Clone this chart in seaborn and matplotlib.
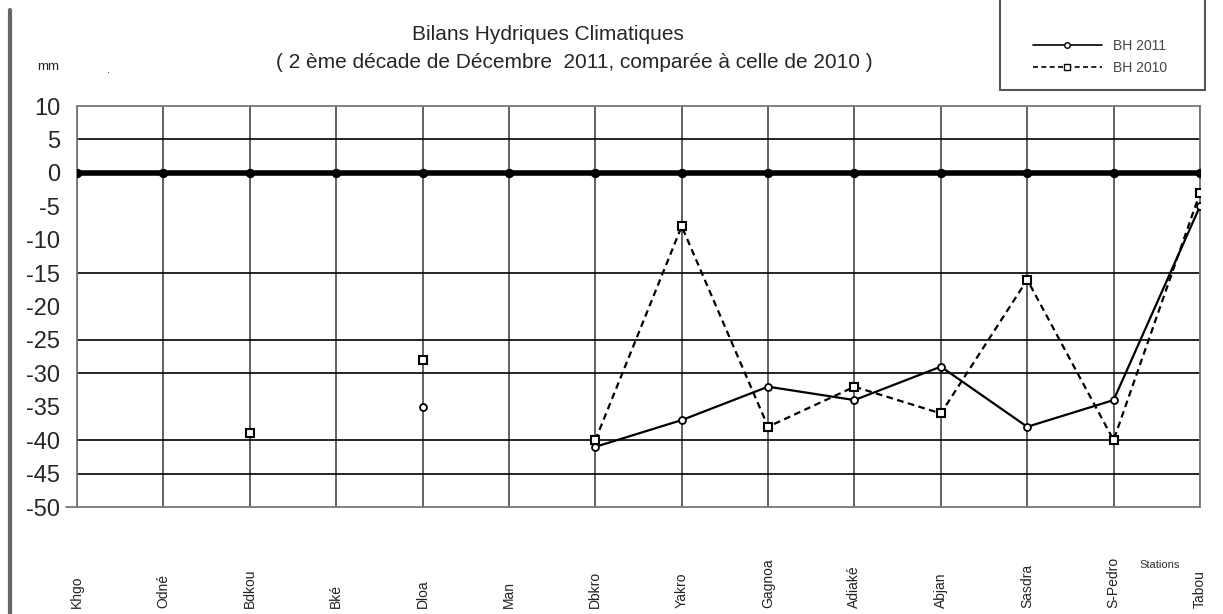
"""Bilans hydriques climatiques - 2e décade de décembre 2011 vs 2010."""
import matplotlib

matplotlib.use("Agg")
import matplotlib.pyplot as plt
import matplotlib.transforms as mtransforms
from matplotlib.lines import Line2D
import numpy as np
import pandas as pd
import seaborn as sns

# --- Data ------------------------------------------------------------------
STATIONS = ["Khgo", "Odné", "Bdkou", "Bké", "Dloa", "Man", "Dbkro",
            "Yakro", "Gagnoa", "Adiaké", "Abjan", "Sasdra", "S-Pedro", "Tabou"]
BH_2011 = [np.nan, np.nan, np.nan, np.nan, -35, np.nan, -41,
           -37, -32, -34, -29, -38, -34, -5]
BH_2010 = [np.nan, np.nan, -39, np.nan, -28, np.nan, -40,
           -8, -38, -32, -36, -16, -40, -3]
ZERO = [0] * len(STATIONS)
Y_TICKS = list(range(10, -55, -5))
GRID_Y = [5, -15, -25, -30, -40, -45]   # lines that survived the scan


def segments(values):
    """Long frame with a segment id so gaps (NaN) break the line."""
    rows, seg = [], 0
    for i, v in enumerate(values):
        if np.isnan(v):
            seg += 1
            continue
        rows.append({"x": i, "y": v, "seg": seg})
    return pd.DataFrame(rows)


sns.set_style("white")
plt.rcParams["font.family"] = ["Liberation Sans Narrow", "Liberation Sans", "DejaVu Sans"]

fig = plt.figure(figsize=(12.23, 6.14), dpi=100)
ax = fig.add_axes([77 / 1223, 1 - 507 / 614, (1200 - 77) / 1223, 401 / 614])

# grid
for i in range(len(STATIONS)):
    ax.axvline(i, color="#555555", lw=1.3, zorder=0)
for g in GRID_Y:
    ax.axhline(g, color="black", lw=1.2, zorder=0)

# zero reference series
sns.lineplot(x=range(len(STATIONS)), y=ZERO, ax=ax, color="black", lw=4,
             marker="o", markersize=6, markeredgecolor="black", zorder=3)

d11 = segments(BH_2011)
d10 = segments(BH_2010)
sns.lineplot(data=d11, x="x", y="y", units="seg", estimator=None, ax=ax,
             color="black", lw=1.6, marker="o", markersize=5,
             markerfacecolor="white", markeredgecolor="black",
             markeredgewidth=1.3, zorder=4)
sns.lineplot(data=d10, x="x", y="y", units="seg", estimator=None, ax=ax,
             color="black", lw=1.6, linestyle=(0, (3, 2)), marker="s",
             markersize=6, markerfacecolor="white", markeredgecolor="black",
             markeredgewidth=1.5, zorder=5)

ax.set_xlim(0, len(STATIONS) - 1)
ax.set_ylim(-50, 10)
ax.set_yticks(Y_TICKS)
ax.set_yticklabels([str(t) for t in Y_TICKS], fontsize=17)
ax.tick_params(axis="y", direction="inout", length=16, width=1, color="#777777", pad=4)
ax.set_xticks([])
ax.set_xlabel("")
ax.set_ylabel("")
for s in ax.spines.values():
    s.set_color("#777777")
    s.set_linewidth(1.3)
ax.spines["bottom"].set_visible(False)
ax.axhline(-50, color="#777777", lw=1.3, xmin=-0.01, clip_on=False)

# station labels, rotated, bottom-aligned
trans = mtransforms.blended_transform_factory(ax.transData, fig.transFigure)
for i, name in enumerate(STATIONS):
    ax.text(i, 1 - 608 / 614, name, transform=trans, rotation=90,
            ha="center", va="bottom", fontsize=10, color="#222222")

fig.text(1160 / 1223, 1 - 565 / 614, "Stations", ha="center", va="center",
         fontsize=8, color="#333333")
fig.text(48 / 1223, 1 - 67 / 614, "mm", ha="center", va="center",
         fontsize=9.5, color="#222222")
fig.text(108 / 1223, 1 - 70 / 614, ".", ha="center", va="center", fontsize=8)

fig.text(548 / 1223, 1 - 35 / 614, "Bilans Hydriques Climatiques",
         ha="center", va="center", fontsize=15)
fig.text(574 / 1223, 1 - 62 / 614,
         "( 2 ème décade de Décembre  2011, comparée à celle de 2010 )",
         ha="center", va="center", fontsize=15)

# page border on the left
fig.add_artist(Line2D([10 / 1223, 10 / 1223], [0, 1 - 10 / 614],
                      transform=fig.transFigure, color="#666666", lw=3))

# legend and its (partly cut) box
handles = [
    Line2D([], [], color="black", lw=1.2, marker="o", markersize=4,
           markerfacecolor="white"),
    Line2D([], [], color="black", lw=1.2, linestyle=(0, (3, 2)), marker="s",
           markersize=4.5, markerfacecolor="white"),
]
fig.legend(handles, ["BH 2011", "BH 2010"], loc="center",
           bbox_to_anchor=(1100 / 1223, 1 - 57 / 614), frameon=False,
           fontsize=10, handlelength=5, labelspacing=0.6, labelcolor="#444444")
bx0, bx1, by = 1000 / 1223, 1205 / 1223, 1 - 90 / 614
for xs, ys in [([bx0, bx0], [by, 1]), ([bx1, bx1], [by, 1]), ([bx0, bx1], [by, by])]:
    fig.add_artist(Line2D(xs, ys, transform=fig.transFigure, color="#555555", lw=1.5))

fig.savefig("out.png", dpi=100, facecolor="white")
